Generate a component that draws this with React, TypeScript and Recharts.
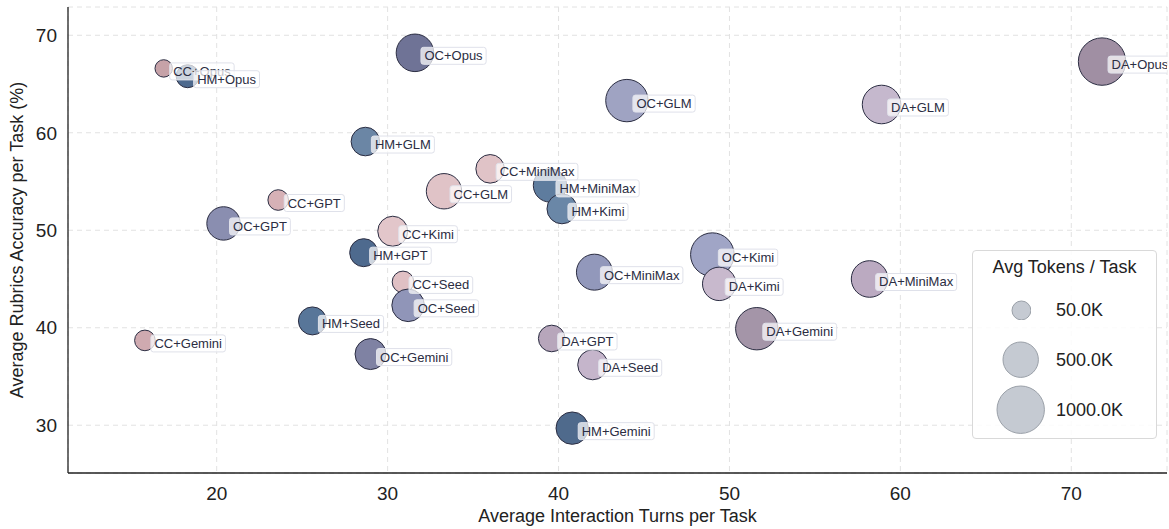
import React from 'react';
import { ScatterChart, Scatter, XAxis, YAxis, ZAxis, CartesianGrid } from 'recharts';

// model order shared by every framework
const MODELS = ['Opus', 'GLM', 'MiniMax', 'Kimi', 'GPT', 'Seed', 'Gemini'];
const FRAMEWORKS = ['CC', 'HM', 'OC', 'DA'];

// avg interaction turns / rubric accuracy (%) / avg tokens (K) per task
const CC_TURNS = [16.9, 33.3, 36.0, 30.3, 23.6, 30.9, 15.8];
const CC_ACC = [66.6, 54.0, 56.3, 49.9, 53.1, 44.7, 38.7];
const CC_TOKENS = [24, 500, 282, 323, 85, 106, 85];

const HM_TURNS = [18.3, 28.7, 39.5, 40.2, 28.6, 25.6, 40.8];
const HM_ACC = [65.8, 59.1, 54.6, 52.2, 47.7, 40.7, 29.7];
const HM_TOKENS = [137, 282, 430, 323, 265, 265, 398];

const OC_TURNS = [31.6, 44.0, 42.1, 49.0, 20.4, 31.2, 29.0];
const OC_ACC = [68.2, 63.3, 45.7, 47.5, 50.7, 42.3, 37.3];
const OC_TOKENS = [580, 773, 522, 825, 432, 405, 353];

const DA_TURNS = [71.8, 58.9, 58.2, 49.4, 39.6, 42.0, 51.6];
const DA_ACC = [67.3, 62.9, 45.0, 44.5, 38.9, 36.2, 39.9];
const DA_TOKENS = [1000, 619, 544, 432, 227, 323, 773];

const X_TICKS = [20, 30, 40, 50, 60, 70];
const Y_TICKS = [30, 40, 50, 60, 70];
const LEGEND_TOKENS = [50, 500, 1000];

const PALETTE: Record<string, string[]> = {
  CC: ['#c6a2a8', '#e0c3c7', '#e0c3c7', '#e2c6ca', '#d6b1b6', '#e0c0c4', '#cfaab0'],
  HM: ['#4e6a8e', '#6b86a5', '#5e7c9e', '#6a87a7', '#4e6a8e', '#587699', '#4f6a8c'],
  OC: ['#6f7396', '#9fa3c2', '#9298bb', '#a0a5c6', '#8a8eb0', '#9095b8', '#7f82a3'],
  DA: ['#a08fa3', '#c5b8cd', '#bbaac1', '#c8b9cd', '#b7a6bb', '#c5b5cb', '#a495a8'],
};

const SERIES: Record<string, [number[], number[], number[]]> = {
  CC: [CC_TURNS, CC_ACC, CC_TOKENS],
  HM: [HM_TURNS, HM_ACC, HM_TOKENS],
  OC: [OC_TURNS, OC_ACC, OC_TOKENS],
  DA: [DA_TURNS, DA_ACC, DA_TOKENS],
};

const rows = (fw: string) =>
  MODELS.map((m, i) => ({
    fw,
    idx: i,
    label: `${fw}+${m}`,
    turns: SERIES[fw][0][i],
    acc: SERIES[fw][1][i],
    tokens: SERIES[fw][2][i],
  }));

// bubble area (px^2) is linear in tokens
const Z_DOMAIN = [0, 1000];
const Z_RANGE = [64 * Math.PI, 562 * Math.PI];
const radiusFor = (z: number) =>
  Math.sqrt((Z_RANGE[0] + ((Z_RANGE[1] - Z_RANGE[0]) * z) / Z_DOMAIN[1]) / Math.PI);

const FONT = '"Liberation Sans", Arial, sans-serif';
const INK = '#2b2d42';

let ctx: CanvasRenderingContext2D | null = null;
const textWidth = (s: string) => {
  if (!ctx) ctx = document.createElement('canvas').getContext('2d');
  if (!ctx) return s.length * 7;
  ctx.font = `13px ${FONT}`;
  return ctx.measureText(s).width;
};

const Bubble = (props: any) => {
  const { cx, cy, width, payload } = props;
  return (
    <circle
      cx={cx}
      cy={cy}
      r={width / 2}
      fill={PALETTE[payload.fw][payload.idx]}
      stroke={INK}
      strokeWidth={1}
    />
  );
};

const Tag = (props: any) => {
  const { cx, cy, payload } = props;
  const w = textWidth(payload.label);
  const x0 = cx + 6;
  const yc = cy + 3;
  return (
    <g>
      <rect x={x0} y={yc - 8.5} width={w + 7} height={17} rx={2.5} fill="#ffffff" fillOpacity={0.72} stroke="#dfe1ea" strokeWidth={1} />
      <text x={x0 + 3.5} y={yc} dominantBaseline="central" fontSize={13} fontFamily={FONT} fill={INK}>
        {payload.label}
      </text>
    </g>
  );
};

export default function App() {
  return (
    <div style={{ position: 'absolute', left: 0, top: 0, width: 1169, height: 529, background: '#fff' }}>
      <ScatterChart width={1169} height={529} margin={{ top: 7, right: 2, bottom: 0, left: 0 }}>
        <CartesianGrid stroke="#e2e2e2" strokeDasharray="5 4" />
        <XAxis
          type="number"
          dataKey="turns"
          domain={[11.3, 75.6]}
          ticks={X_TICKS}
          allowDataOverflow
          height={56}
          tickLine={false}
          tickMargin={8}
          axisLine={{ stroke: '#222', strokeWidth: 1.3 }}
          tick={{ fill: '#222', fontSize: 19, fontFamily: FONT }}
          label={{ value: 'Average Interaction Turns per Task', position: 'insideBottom', offset: 7, fill: '#222', fontSize: 18, fontFamily: FONT }}
        />
        <YAxis
          type="number"
          dataKey="acc"
          domain={[25.1, 72.9]}
          ticks={Y_TICKS}
          allowDataOverflow
          width={68}
          tickLine={false}
          tickMargin={5}
          axisLine={{ stroke: '#222', strokeWidth: 1.3 }}
          tick={{ fill: '#222', fontSize: 19, fontFamily: FONT }}
          label={{ value: 'Average Rubrics Accuracy per Task (%)', angle: -90, position: 'insideLeft', offset: 0, dx: 17, fill: '#222', fontSize: 18, fontFamily: FONT, style: { textAnchor: 'middle' } }}
        />
        <ZAxis type="number" dataKey="tokens" domain={Z_DOMAIN} range={Z_RANGE} />
        {FRAMEWORKS.map((fw) => (
          <Scatter key={fw} data={rows(fw)} shape={Bubble} isAnimationActive={false} />
        ))}
        {FRAMEWORKS.map((fw) => (
          <Scatter key={fw + '-tag'} data={rows(fw)} shape={Tag} isAnimationActive={false} />
        ))}
      </ScatterChart>
      <div
        style={{
          position: 'absolute',
          left: 972,
          top: 250,
          width: 183,
          height: 187,
          border: '1.5px solid #d9d9d9',
          borderRadius: 4,
          background: 'rgba(255,255,255,0.85)',
          fontFamily: FONT,
          color: '#222',
        }}
      >
        <div style={{ position: 'absolute', left: 0, right: 0, top: 6, textAlign: 'center', fontSize: 18 }}>Avg Tokens / Task</div>
        {LEGEND_TOKENS.map((t, i) => {
          const r = radiusFor(t);
          const cy = 59 + i * 50;
          return (
            <React.Fragment key={t}>
              <svg style={{ position: 'absolute', left: 48 - r - 1, top: cy - r - 1 }} width={2 * r + 2} height={2 * r + 2}>
                <circle cx={r + 1} cy={r + 1} r={r} fill="#c5cad2" stroke="#9aa0a8" strokeWidth={1} />
              </svg>
              <div style={{ position: 'absolute', left: 83, top: cy - 11, fontSize: 18, lineHeight: '22px' }}>
                {`${t.toFixed(1)}K`}
              </div>
            </React.Fragment>
          );
        })}
      </div>
    </div>
  );
}
